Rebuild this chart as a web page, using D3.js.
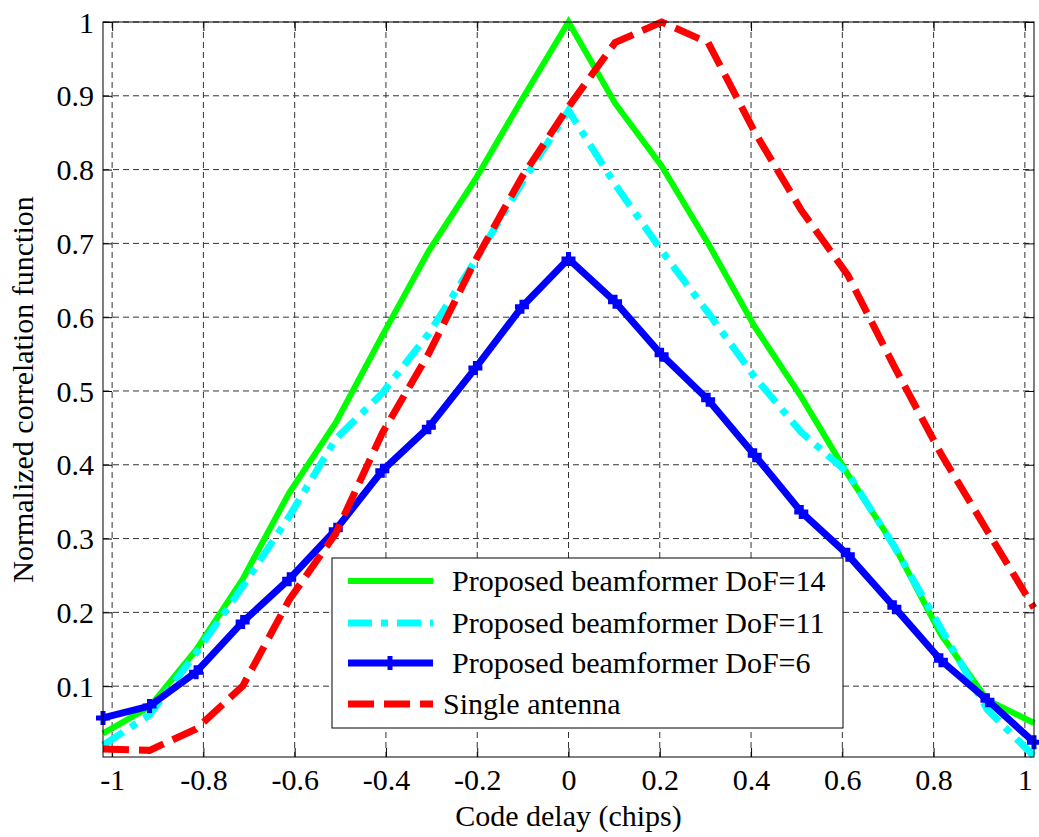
<!DOCTYPE html>
<html><head><meta charset="utf-8">
<script src="https://cdn.jsdelivr.net/npm/d3@7"></script>
<style>
html,body{margin:0;padding:0;background:#fff;}
svg{display:block;}
svg text{font-family:"Liberation Serif","Times New Roman",Times,serif;}
</style></head>
<body><svg id="c" width="1039" height="837"></svg>
<script>
// Code delay samples (chips)
const codeDelay = [-1.02,-0.918,-0.816,-0.714,-0.612,-0.51,-0.408,-0.306,-0.204,-0.102,0,
                   0.102,0.204,0.306,0.408,0.51,0.612,0.714,0.816,0.918,1.02];
const dof14 = [0.036,0.072,0.149,0.245,0.362,0.457,0.575,0.690,0.787,0.895,1.000,
               0.890,0.805,0.700,0.587,0.492,0.387,0.290,0.170,0.081,0.050];
const dof11 = [0.020,0.061,0.145,0.235,0.330,0.435,0.497,0.578,0.677,0.782,0.880,
               0.780,0.690,0.606,0.519,0.444,0.389,0.289,0.178,0.068,0.005];
const dof6  = [0.057,0.073,0.119,0.187,0.245,0.312,0.392,0.451,0.531,0.614,0.679,
               0.621,0.549,0.488,0.413,0.336,0.278,0.207,0.135,0.081,0.024];
const single = [0.015,0.013,0.042,0.100,0.217,0.307,0.443,0.551,0.677,0.790,0.885,
                0.972,1.000,0.972,0.851,0.745,0.657,0.533,0.415,0.310,0.206];
const xTicks = [-1,-0.8,-0.6,-0.4,-0.2,0,0.2,0.4,0.6,0.8,1];
const yTicks = [0.1,0.2,0.3,0.4,0.5,0.6,0.7,0.8,0.9,1];
const legendLabels = ["Proposed beamformer DoF=14","Proposed beamformer DoF=11","Proposed beamformer DoF=6","Single antenna"];
const xLabel = "Code delay (chips)";
const yLabel = "Normalized correlation function";

const FONT = "\"Liberation Serif\", \"Times New Roman\", Times, serif";
const svg = d3.select("#c");
const L=103, R=1034, T=22, B=757;
const x = d3.scaleLinear().domain([-1.02,1.02]).range([L,R]);
const y = d3.scaleLinear().domain([0.004,1]).range([B,T]);
const fs = 30;

// grid
const g = svg.append("g");
g.selectAll(".gx").data(xTicks).join("line")
  .attr("x1",d=>x(d)).attr("x2",d=>x(d)).attr("y1",T).attr("y2",B)
  .attr("stroke","#333").attr("stroke-width",1).attr("stroke-dasharray","6,4");
g.selectAll(".gy").data(yTicks).join("line")
  .attr("x1",L).attr("x2",R).attr("y1",d=>y(d)).attr("y2",d=>y(d))
  .attr("stroke","#333").attr("stroke-width",1).attr("stroke-dasharray","6,4");

// axes with inward ticks
const tl = 9;
const ax = svg.append("g").attr("transform",`translate(0,${B})`)
  .call(d3.axisBottom(x).tickValues(xTicks).tickSize(-tl).tickPadding(33).tickFormat(d=>String(d)));
const axTop = svg.append("g").attr("transform",`translate(0,${T})`)
  .call(d3.axisTop(x).tickValues(xTicks).tickSize(-tl).tickFormat(""));
const ay = svg.append("g").attr("transform",`translate(${L},0)`)
  .call(d3.axisLeft(y).tickValues(yTicks).tickSize(-tl).tickPadding(9).tickFormat(d=>String(d)));
const ayR = svg.append("g").attr("transform",`translate(${R},0)`)
  .call(d3.axisRight(y).tickValues(yTicks).tickSize(-tl).tickFormat(""));
[ax,axTop,ay,ayR].forEach(a=>{
  a.attr("font-family",FONT).attr("font-size",fs);
  a.select(".domain").remove();
  a.selectAll(".tick line").attr("stroke","#000");
  a.selectAll("text").attr("fill","#000").style("font-family",FONT).style("font-size",fs+"px");
});
ax.selectAll("text").attr("dy","0");
ay.selectAll("text").attr("dy","0.34em");

// series
const series = [
  {v:dof14, color:"#00ff00", dash:null, w:6},
  {v:dof11, color:"#00ffff", dash:"24,9,7,9", w:7},
  {v:dof6,  color:"#0000ff", dash:null, w:7, marker:true},
  {v:single,color:"#ff0000", dash:"26,10", w:7}
];
const line = d3.line().x(d=>x(d[0])).y(d=>y(d[1]));
const plus = "M-7,0H7M0,-7V7";
series.forEach(s=>{
  const pts = codeDelay.map((c,i)=>[c,s.v[i]]);
  svg.append("path").datum(pts).attr("d",line).attr("fill","none")
    .attr("stroke",s.color).attr("stroke-width",s.w).attr("stroke-linejoin","miter")
    .attr("stroke-dasharray",s.dash);
  if(s.marker){
    svg.append("g").selectAll("path").data(pts).join("path")
      .attr("transform",d=>`translate(${x(d[0])},${y(d[1])})`)
      .attr("d",plus).attr("stroke",s.color).attr("stroke-width",5).attr("fill","none");
  }
});

// box
svg.append("rect").attr("x",L).attr("y",T).attr("width",R-L).attr("height",B-T)
  .attr("fill","none").attr("stroke","#000").attr("stroke-width",1);

// legend
const lg = svg.append("g");
lg.append("rect").attr("x",332).attr("y",558).attr("width",511).attr("height",170)
  .attr("fill","#fff").attr("stroke","#000").attr("stroke-width",1);
const rowsY = [581,623,663,704];
const textX = [452,452,452,443];
series.forEach((s,i)=>{
  lg.append("line").attr("x1",348).attr("x2",433).attr("y1",rowsY[i]).attr("y2",rowsY[i])
    .attr("stroke",s.color).attr("stroke-width",s.w).attr("stroke-dasharray",s.dash);
  if(s.marker){
    lg.append("path").attr("transform",`translate(390,${rowsY[i]})`).attr("d",plus)
      .attr("stroke",s.color).attr("stroke-width",5);
  }
  lg.append("text").attr("x",textX[i]).attr("y",rowsY[i]).attr("dy","0.34em")
    .style("font-family",FONT).style("font-size",fs+"px").text(legendLabels[i]);
});

// axis labels
svg.append("text").attr("x",(L+R)/2).attr("y",826).attr("text-anchor","middle")
  .style("font-family",FONT).style("font-size",fs+"px").text(xLabel);
svg.append("text").attr("transform",`translate(33,${(T+B)/2}) rotate(-90)`)
  .attr("text-anchor","middle").style("font-family",FONT).style("font-size",fs+"px").text(yLabel);
</script></body></html>
